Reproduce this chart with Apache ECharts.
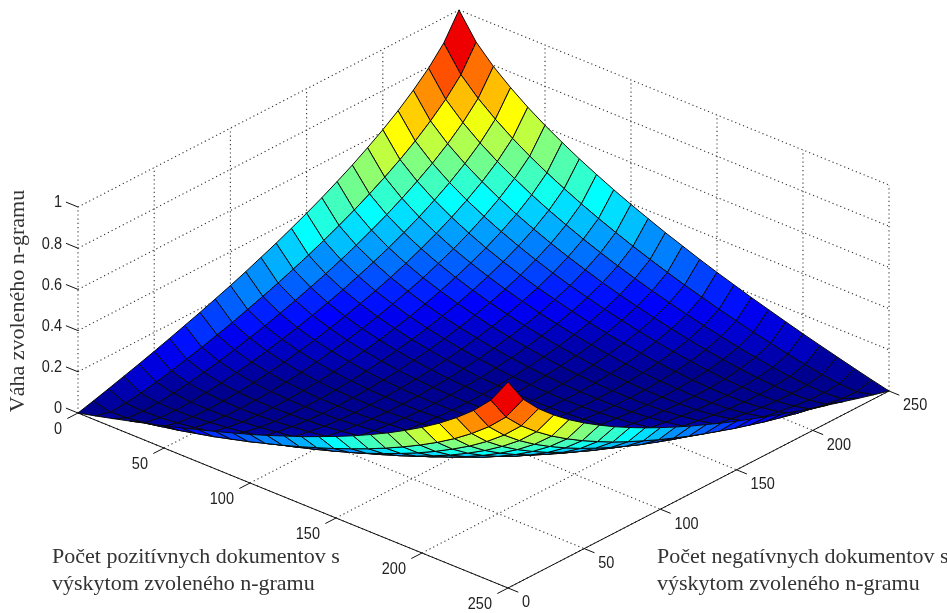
<!DOCTYPE html>
<html><head><meta charset="utf-8">
<style>html,body{margin:0;padding:0;background:#fff}#c{width:947px;height:613px}</style>
<script src="https://cdn.jsdelivr.net/npm/echarts@6/dist/echarts.min.js"></script>
</head><body><div id="c"></div>
<script>
// Grid of the surface: document counts on each horizontal axis
const positiveDocs = [0,10,20,30,40,50,60,70,80,90,100,110,120,130,140,150,160,170,180,190,200,210,220,230,240,250];
const negativeDocs = [0,10,20,30,40,50,60,70,80,90,100,110,120,130,140,150,160,170,180,190,200,210,220,230,240,250];
// Weight of the n-gram in thousandths; rows = positive docs, columns = negative docs
const weightRows = [
[0,20,41,63,85,108,132,157,182,209,236,265,296,327,361,396,433,473,515,561,610,664,725,794,878,1000],
[20,0,5,16,31,47,66,85,107,129,154,179,206,235,265,298,332,369,409,452,499,551,610,677,758,878],
[41,5,0,3,11,22,36,51,69,88,108,131,155,181,208,238,270,305,342,383,428,477,533,598,677,794],
[63,16,3,0,2,9,18,30,43,59,77,96,117,140,165,193,222,254,289,327,370,417,471,533,610,725],
[85,31,11,2,0,2,7,15,26,38,53,69,88,108,131,155,182,212,245,281,321,366,417,477,551,664],
[108,47,22,9,2,0,2,6,14,23,35,49,64,82,102,125,149,176,207,240,278,321,370,428,499,610],
[132,66,36,18,7,2,0,2,6,12,21,33,46,61,79,98,121,146,174,205,240,281,327,383,452,561],
[157,85,51,30,15,6,2,0,1,5,12,20,31,44,59,76,96,119,145,174,207,245,289,342,409,515],
[182,107,69,43,26,14,6,1,0,1,5,11,19,30,43,58,75,96,119,146,176,212,254,305,369,473],
[209,129,88,59,38,23,12,5,1,0,1,5,11,19,29,42,57,75,96,121,149,182,222,270,332,433],
[236,154,108,77,53,35,21,12,5,1,0,1,5,10,19,29,42,58,76,98,125,155,193,238,298,396],
[265,179,131,96,69,49,33,20,11,5,1,0,1,5,10,19,29,43,59,79,102,131,165,208,265,361],
[296,206,155,117,88,64,46,31,19,11,5,1,0,1,5,10,19,30,44,61,82,108,140,181,235,327],
[327,235,181,140,108,82,61,44,30,19,10,5,1,0,1,5,11,19,31,46,64,88,117,155,206,296],
[361,265,208,165,131,102,79,59,43,29,19,10,5,1,0,1,5,11,20,33,49,69,96,131,179,265],
[396,298,238,193,155,125,98,76,58,42,29,19,10,5,1,0,1,5,12,21,35,53,77,108,154,236],
[433,332,270,222,182,149,121,96,75,57,42,29,19,11,5,1,0,1,5,12,23,38,59,88,129,209],
[473,369,305,254,212,176,146,119,96,75,58,43,30,19,11,5,1,0,1,6,14,26,43,69,107,182],
[515,409,342,289,245,207,174,145,119,96,76,59,44,31,20,12,5,1,0,2,6,15,30,51,85,157],
[561,452,383,327,281,240,205,174,146,121,98,79,61,46,33,21,12,6,2,0,2,7,18,36,66,132],
[610,499,428,370,321,278,240,207,176,149,125,102,82,64,49,35,23,14,6,2,0,2,9,22,47,108],
[664,551,477,417,366,321,281,245,212,182,155,131,108,88,69,53,38,26,15,7,2,0,2,11,31,85],
[725,610,533,471,417,370,327,289,254,222,193,165,140,117,96,77,59,43,30,18,9,2,0,3,16,63],
[794,677,598,533,477,428,383,342,305,270,238,208,181,155,131,108,88,69,51,36,22,11,3,0,5,41],
[878,758,677,610,551,499,452,409,369,332,298,265,235,206,179,154,129,107,85,66,47,31,16,5,0,20],
[1000,878,794,725,664,610,561,515,473,433,396,361,327,296,265,236,209,182,157,132,108,85,63,41,20,0]
];
// Axis ticks and labels
const positiveTicks = [0,50,100,150,200,250];
const negativeTicks = [0,50,100,150,200,250];
const weightTicks = [0,0.2,0.4,0.6,0.8,1];
const weightTickLabels = ['0','0.2','0.4','0.6','0.8','1'];
const axisTitleZ = 'Váha zvoleného n-gramu';
const axisTitlePositive = ['Počet pozitívnych dokumentov s','výskytom zvoleného n-gramu'];
const axisTitleNegative = ['Počet negatívnych dokumentov s','výskytom zvoleného n-gramu'];

// Orthographic view of the 3D box on the screen-sized cartesian plane
const VIEW = {ox:78, oy:413, px:430/250, py:175/250, nx:381/250, ny:-197/250, zy:-206};
function project(p, n, z){
  return [VIEW.ox + p*VIEW.px + n*VIEW.nx, VIEW.oy + p*VIEW.py + n*VIEW.ny + z*VIEW.zy];
}
// MATLAB jet(64)
function jet(z){
  const r = Math.min(64, Math.floor(z*64)+1);
  let c;
  if(r<=8) c=[0,0,0.5+r/16];
  else if(r<=24) c=[0,(r-8)/16,1];
  else if(r<=40) c=[(r-24)/16,1,1-(r-24)/16];
  else if(r<=56) c=[1,1-(r-40)/16,0];
  else c=[1-(r-56)/16,0,0];
  return 'rgb('+c.map(v=>Math.round(v*255)).join(',')+')';
}
// Faces, painted from the far corner to the near one
const faces = [];
for(let i=0;i<positiveDocs.length-1;i++){
  for(let j=0;j<negativeDocs.length-1;j++){
    faces.push([positiveDocs[i],negativeDocs[j],positiveDocs[i+1],negativeDocs[j+1],
      weightRows[i][j]/1000,weightRows[i+1][j]/1000,weightRows[i+1][j+1]/1000,weightRows[i][j+1]/1000]);
  }
}
faces.sort((a,b)=>(a[0]-a[1])-(b[0]-b[1]));

// Box lines
const pMax = positiveTicks[positiveTicks.length-1], nMax = negativeTicks[negativeTicks.length-1], zMax = 1;
const dotted = [], solid = [];
positiveTicks.forEach(p=>{
  dotted.push([p,0,0,p,nMax,0]);
  dotted.push([p,nMax,0,p,nMax,zMax]);
  solid.push([p,0,0,p,-7,0]);
});
negativeTicks.forEach(n=>{
  dotted.push([0,n,0,pMax,n,0]);
  dotted.push([0,n,0,0,n,zMax]);
  solid.push([pMax,n,0,pMax+6,n,0]);
});
weightTicks.forEach(z=>{
  dotted.push([0,0,z,0,nMax,z]);
  dotted.push([0,nMax,z,pMax,nMax,z]);
  solid.push([0,0,z,-7,0,z]);
});
solid.push([0,0,0,pMax,0,0]);
solid.push([pMax,0,0,pMax,nMax,0]);

function lineRenderer(style){
  return function(params, api){
    const a = api.coord(project(api.value(0),api.value(1),api.value(2)));
    const b = api.coord(project(api.value(3),api.value(4),api.value(5)));
    return {type:'line',shape:{x1:a[0],y1:a[1],x2:b[0],y2:b[1]},style:style};
  };
}
// Tick label placement: offsets from the tick's point on the axis
const tickText = [];
positiveTicks.forEach(p=>tickText.push([p,0,0,-16,17,String(p),'right']));
negativeTicks.forEach(n=>tickText.push([pMax,n,0,14,15,String(n),'left']));
weightTicks.forEach((z,k)=>tickText.push([0,0,z,-16,-4,weightTickLabels[k],'right']));

const titleStyle = {fill:'#333',font:'22px "Liberation Serif"',verticalAlign:'middle'};
const option = {
  animation:false,
  backgroundColor:'#fff',
  grid:{left:0,right:0,top:0,bottom:0,containLabel:false},
  xAxis:{type:'value',min:0,max:947,show:false},
  yAxis:{type:'value',min:0,max:613,inverse:true,show:false},
  series:[
    {type:'custom',coordinateSystem:'cartesian2d',silent:true,clip:false,z:1,data:dotted,
     renderItem:lineRenderer({stroke:'#333',lineWidth:1.1,lineDash:[1.2,3],fill:null})},
    {type:'custom',coordinateSystem:'cartesian2d',silent:true,clip:false,z:2,data:solid,
     renderItem:lineRenderer({stroke:'#111',lineWidth:1,fill:null})},
    {type:'custom',coordinateSystem:'cartesian2d',silent:true,clip:false,z:3,data:faces,
     renderItem:function(params,api){
       const p0=api.value(0),n0=api.value(1),p1=api.value(2),n1=api.value(3);
       const pts=[project(p0,n0,api.value(4)),project(p1,n0,api.value(5)),project(p1,n1,api.value(6)),project(p0,n1,api.value(7))].map(q=>api.coord(q));
       return {type:'polygon',shape:{points:pts},style:{fill:jet(api.value(4)),stroke:'#0a0a0a',lineWidth:1,lineJoin:'round'}};
     }},
    {type:'custom',coordinateSystem:'cartesian2d',silent:true,clip:false,z:4,data:tickText,
     encode:{x:0,y:1},
     renderItem:function(params,api){
       const item=tickText[params.dataIndex];
       const q=api.coord(project(item[0],item[1],item[2]));
       return {type:'text',x:q[0]+item[3],y:q[1]+item[4],scaleY:1.12,
         style:{text:item[5],fill:'#222',font:'14.5px "Liberation Sans"',align:item[6],verticalAlign:'middle'}};
     }}
  ],
  graphic:[
    {type:'text',x:18,y:301,rotation:Math.PI/2,style:Object.assign({text:axisTitleZ,align:'center'},titleStyle),z:10},
    {type:'text',x:52,y:557,style:Object.assign({text:axisTitlePositive[0],align:'left'},titleStyle),z:10},
    {type:'text',x:52,y:584,style:Object.assign({text:axisTitlePositive[1],align:'left'},titleStyle),z:10},
    {type:'text',x:657,y:557,style:Object.assign({text:axisTitleNegative[0],align:'left'},titleStyle),z:10},
    {type:'text',x:657,y:584,style:Object.assign({text:axisTitleNegative[1],align:'left'},titleStyle),z:10}
  ]
};
echarts.init(document.getElementById('c'),null,{renderer:'canvas'}).setOption(option);
</script></body></html>
